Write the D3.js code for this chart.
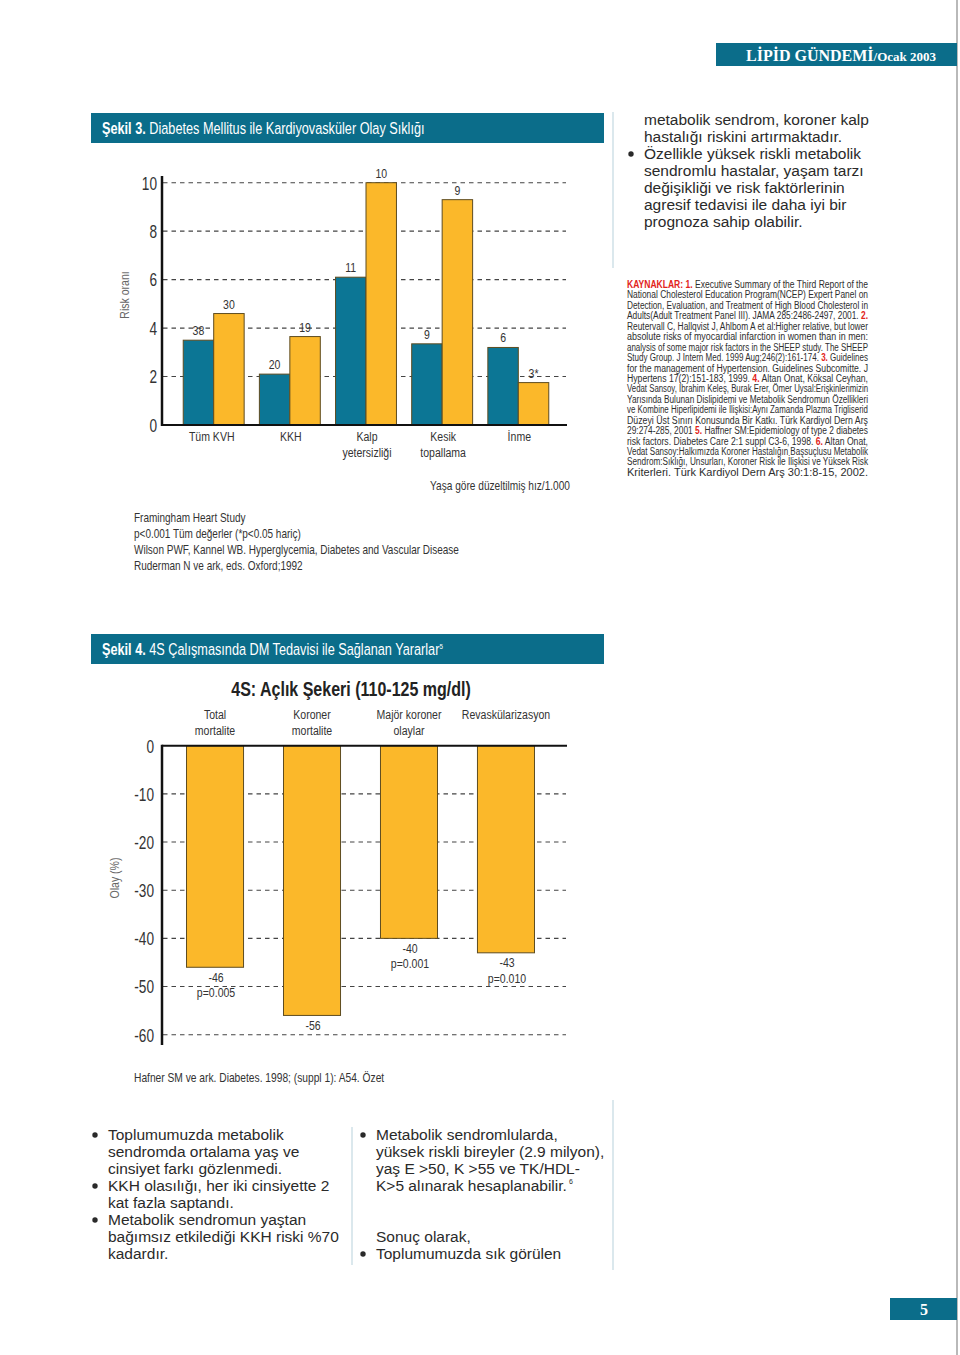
<!DOCTYPE html>
<html>
<head>
<meta charset="utf-8">
<script src="https://cdn.jsdelivr.net/npm/d3@7"></script>
<style>
  body {margin: 0; background: #fff;}
  svg {display: block;}
</style>
</head>
<body>
<div id="page"></div>
<script>
`use strict`;

// Şekil 3 - risk oranı (bar height) and yaşa göre düzeltilmiş hız/1.000 (label)
const riskCats = [`Tüm KVH`, `KKH`, `Kalp|yetersizliği`, `Kesik|topallama`, `İnme`];
const riskBlue = [3.5, 2.1, 6.1, 3.35, 3.2];
const riskYellow = [4.6, 3.65, 10, 9.3, 1.75];
const rateBlue = [`38`, `20`, `11`, `9`, `6`];
const rateYellow = [`30`, `19`, `10`, `9`, `3*`];
const riskTicks = [0, 2, 4, 6, 8, 10];

// Şekil 4 - 4S olay değişimi (%)
const olayCats = [`Total|mortalite`, `Koroner|mortalite`, `Majör koroner|olaylar`, `Revaskülarizasyon`];
const olayValues = [-46, -56, -40, -43];
const olayP = [`p=0.005`, ``, `p=0.001`, `p=0.010`];
const olayTicks = [0, -10, -20, -30, -40, -50, -60];

const rightLines = [
  [``, `metabolik sendrom, koroner kalp`],
  [``, `hastalığı riskini artırmaktadır.`],
  [`•`, `Özellikle yüksek riskli metabolik`],
  [``, `sendromlu hastalar, yaşam tarzı`],
  [``, `değişikliği ve risk faktörlerinin`],
  [``, `agresif tedavisi ile daha iyi bir`],
  [``, `prognoza sahip olabilir.`]
];

const refLines = [
  `<r>KAYNAKLAR: 1.</r> Executive Summary of the Third Report of the`,
  `National Cholesterol Education Program(NCEP) Expert Panel on`,
  `Detection, Evaluation, and Treatment of High Blood Cholesterol in`,
  `Adults(Adult Treatment Panel III). JAMA 285:2486-2497, 2001. <r>2.</r>`,
  `Reutervall C, Hallqvist J, Ahlbom A et al:Higher relative, but lower`,
  `absolute risks of myocardial infarction in women than in men:`,
  `analysis of some major risk factors in the SHEEP study. The SHEEP`,
  `Study Group. J Intern Med. 1999 Aug;246(2):161-174. <r>3.</r> Guidelines`,
  `for the management of Hypertension. Guidelines Subcomitte. J`,
  `Hypertens 17(2):151-183, 1999. <r>4.</r> Altan Onat, Köksal Ceyhan,`,
  `Vedat Sansoy, İbrahim Keleş, Burak Erer, Ömer Uysal:Erişkinlerimizin`,
  `Yarısında Bulunan Dislipidemi ve Metabolik Sendromun Özellikleri`,
  `ve Kombine Hiperlipidemi ile İlişkisi:Aynı Zamanda Plazma Trigliserid`,
  `Düzeyi Üst Sınırı Konusunda Bir Katkı. Türk Kardiyol Dern Arş`,
  `29:274-285, 2001 <r>5.</r> Haffner SM:Epidemiology of type 2 diabetes`,
  `risk factors. Diabetes Care 2:1 suppl C3-6, 1998. <r>6.</r> Altan Onat,`,
  `Vedat Sansoy:Halkımızda Koroner Hastalığın Başsuçlusu Metabolik`,
  `Sendrom:Sıklığı, Unsurları, Koroner Risk ile İlişkisi ve Yüksek Risk`,
  `Kriterleri. Türk Kardiyol Dern Arş 30:1:8-15, 2002.`
];

const noteLines = [
  `Framingham Heart Study`,
  `p<0.001 Tüm değerler (*p<0.05 hariç)`,
  `Wilson PWF, Kannel WB. Hyperglycemia, Diabetes and Vascular Disease`,
  `Ruderman N ve ark, eds. Oxford;1992`
];

const leftBullets = [
  [`•`, `Toplumumuzda metabolik`],
  [``, `sendromda ortalama yaş ve`],
  [``, `cinsiyet farkı gözlenmedi.`],
  [`•`, `KKH olasılığı, her iki cinsiyette 2`],
  [``, `kat fazla saptandı.`],
  [`•`, `Metabolik sendromun yaştan`],
  [``, `bağımsız etkilediği KKH riski %70`],
  [``, `kadardır.`]
];

const rightBullets = [
  [`•`, `Metabolik sendromlularda,`, 0],
  [``, `yüksek riskli bireyler (2.9 milyon),`, 1],
  [``, `yaş E >50, K >55 ve TK/HDL-`, 2],
  [``, `K>5 alınarak hesaplanabilir.`, 3],
  [``, `Sonuç olarak,`, 6],
  [`•`, `Toplumumuzda sık görülen`, 7]
];

(function () {

  const W = 960, H = 1355;

  const teal = `#0b6d8a`, blue = `#0c7695`, yellow = `#fbb82a`, edge = `#5e4c20`;
  const ink = `#333`, soft = `#666`;
  const cond = `"Liberation Sans", Arial, sans-serif`;
  const sans = `"Liberation Sans", Arial, sans-serif`;
  const serif = `"Liberation Serif", "DejaVu Serif", serif`;

  let svg = d3.select(`#page`).append(`svg`)
    .attr(`width`, W)
    .attr(`height`, H)
    .style(`background`, `#fff`);

  // move x/y into a transform and squeeze the text horizontally (stands in for a condensed face)
  let squeeze = (sel, k = .78) => sel.each(function () {
    let t = d3.select(this);
    let x = +t.attr(`x`) || 0, y = +t.attr(`y`) || 0;
    let pre = t.attr(`transform`) || ``;
    t.attr(`transform`, `${pre} translate(${x},${y}) scale(${k},1)`).attr(`x`, 0).attr(`y`, 0);
    t.selectAll(`tspan[x]`).attr(`x`, 0);
  });

  // page frame
  svg.append(`line`).attr(`x1`, 957).attr(`x2`, 957).attr(`y1`, 0).attr(`y2`, H)
    .attr(`stroke`, `#8a8a8a`).attr(`stroke-width`, 1.2);

  [[112, 268], [1100, 1270]].forEach(s => {
    svg.append(`line`).attr(`x1`, 613).attr(`x2`, 613).attr(`y1`, s[0]).attr(`y2`, s[1])
      .attr(`stroke`, `#cfe0e7`).attr(`stroke-width`, 1.5);
  });

  svg.append(`line`).attr(`x1`, 352).attr(`x2`, 352).attr(`y1`, 1127).attr(`y2`, 1265)
    .attr(`stroke`, `#cfe0e7`).attr(`stroke-width`, 1.5);

  // top right banner
  svg.append(`rect`).attr(`x`, 716).attr(`y`, 43).attr(`width`, 241).attr(`height`, 23).attr(`fill`, teal);

  let banner = svg.append(`text`)
    .attr(`x`, 746).attr(`y`, 61)
    .attr(`fill`, `#fff`)
    .style(`font-family`, serif)
    .style(`font-weight`, `bold`);
  banner.append(`tspan`).style(`font-size`, `16px`).text(`LİPİD GÜNDEMİ`);
  banner.append(`tspan`).style(`font-size`, `13px`).text(`/Ocak 2003`);

  // page number
  svg.append(`rect`).attr(`x`, 890).attr(`y`, 1298).attr(`width`, 67).attr(`height`, 22).attr(`fill`, teal);
  svg.append(`text`).attr(`x`, 924).attr(`y`, 1315).attr(`text-anchor`, `middle`)
    .attr(`fill`, `#fff`).style(`font-family`, serif).style(`font-weight`, `bold`).style(`font-size`, `16px`)
    .text(`5`);

  let figHeader = (y, bold, rest, sup) => {

    svg.append(`rect`).attr(`x`, 91).attr(`y`, y).attr(`width`, 513).attr(`height`, 30).attr(`fill`, teal);

    let t = svg.append(`text`)
      .attr(`x`, 102).attr(`y`, y + 21)
      .attr(`fill`, `#fff`)
      .style(`font-family`, cond)
      .style(`font-size`, `16.5px`);

    t.append(`tspan`).style(`font-weight`, `bold`).text(bold);
    t.append(`tspan`).text(rest);

    if (sup) t.append(`tspan`).attr(`dy`, -6).style(`font-size`, `8px`).text(sup);

    squeeze(t, .77);
  };

  figHeader(113, `Şekil 3.`, ` Diabetes Mellitus ile Kardiyovasküler Olay Sıklığı`);
  figHeader(634, `Şekil 4.`, ` 4S Çalışmasında DM Tedavisi ile Sağlanan Yararlar`, `5`);

  let multiline = (sel, d, lh) => {
    d.split(`|`).forEach((s, i) => {
      sel.append(`tspan`).attr(`x`, sel.attr(`x`)).attr(`dy`, i ? lh : 0).text(s);
    });
  };

  /**
  Şekil 3
  **/

  let y3 = d3.scaleLinear().domain([0, 10]).range([425, 182.7]);

  let x3 = d3.scaleBand().domain(riskCats).range([168, 564]).paddingInner(.2).paddingOuter(.2);

  let pair = d3.scaleBand().domain([`b`, `y`]).range([0, x3.bandwidth()]);

  let c3 = svg.append(`g`).attr(`class`, `chart3`);

  c3.selectAll(`line.grid`).data(riskTicks.filter(d => d > 0))
    .enter()
    .append(`line`)
    .attr(`class`, `grid`)
    .attr(`x1`, 163).attr(`x2`, 566)
    .attr(`y1`, d => y3(d)).attr(`y2`, d => y3(d))
    .attr(`stroke`, `#444`)
    .attr(`stroke-width`, 1.1)
    .attr(`stroke-dasharray`, `4.5,4`);

  let axis3 = c3.append(`g`)
    .attr(`transform`, `translate(162,0)`)
    .call(d3.axisLeft(y3).tickValues(riskTicks).tickSize(0).tickPadding(5));

  axis3.select(`.domain`).remove();
  axis3.selectAll(`text`)
    .attr(`dy`, `0.36em`)
    .style(`font-family`, cond)
    .style(`font-size`, `17.5px`)
    .attr(`fill`, ink)
    .call(squeeze);

  let rows = riskCats.map((c, i) => [
    {cat: c, k: `b`, v: riskBlue[i], lbl: rateBlue[i]},
    {cat: c, k: `y`, v: riskYellow[i], lbl: rateYellow[i]}
  ]).flat();

  c3.selectAll(`rect.bar`).data(rows)
    .enter()
    .append(`rect`)
    .attr(`class`, `bar`)
    .attr(`x`, d => x3(d.cat) + pair(d.k))
    .attr(`y`, d => y3(d.v))
    .attr(`width`, pair.bandwidth())
    .attr(`height`, d => y3(0) - y3(d.v))
    .attr(`fill`, d => d.k === `b` ? blue : yellow)
    .attr(`stroke`, edge)
    .attr(`stroke-width`, 1);

  c3.selectAll(`text.val`).data(rows)
    .enter()
    .append(`text`)
    .attr(`class`, `val`)
    .attr(`x`, d => x3(d.cat) + pair(d.k) + pair.bandwidth() / 2)
    .attr(`y`, d => y3(d.v) - 5)
    .attr(`text-anchor`, `middle`)
    .style(`font-family`, cond)
    .style(`font-size`, `13.5px`)
    .attr(`fill`, ink)
    .text(d => d.lbl)
    .call(squeeze);

  c3.append(`line`).attr(`x1`, 162).attr(`x2`, 567).attr(`y1`, y3(0)).attr(`y2`, y3(0))
    .attr(`stroke`, `#111`).attr(`stroke-width`, 2);
  c3.append(`line`).attr(`x1`, 162).attr(`x2`, 162).attr(`y1`, 176).attr(`y2`, y3(0) + 1)
    .attr(`stroke`, `#111`).attr(`stroke-width`, 2.5);

  c3.selectAll(`text.cat`).data(riskCats)
    .enter()
    .append(`text`)
    .attr(`class`, `cat`)
    .attr(`x`, (d, i) => x3(d) + x3.bandwidth() / 2 + (i ? 1 : -2))
    .attr(`y`, 441)
    .attr(`text-anchor`, `middle`)
    .style(`font-family`, cond)
    .style(`font-size`, `13.5px`)
    .attr(`fill`, ink)
    .each(function (d) { multiline(d3.select(this), d, 16); })
    .call(squeeze);

  c3.append(`text`)
    .attr(`transform`, `translate(129,295) rotate(-90)`)
    .attr(`text-anchor`, `middle`)
    .style(`font-family`, cond)
    .style(`font-size`, `13.5px`)
    .attr(`fill`, soft)
    .text(`Risk oranı`)
    .call(squeeze);

  c3.append(`text`)
    .attr(`x`, 570).attr(`y`, 490)
    .attr(`text-anchor`, `end`)
    .style(`font-family`, cond)
    .style(`font-size`, `13px`)
    .attr(`fill`, ink)
    .text(`Yaşa göre düzeltilmiş hız/1.000`)
    .call(squeeze);

  svg.selectAll(`text.note`).data(noteLines)
    .enter()
    .append(`text`)
    .attr(`class`, `note`)
    .attr(`x`, 134)
    .attr(`y`, (d, i) => 522 + i * 16)
    .style(`font-family`, cond)
    .style(`font-size`, `12.5px`)
    .attr(`fill`, ink)
    .text(d => d)
    .call(squeeze, .8);

  /**
  Şekil 4
  **/

  let y4 = d3.scaleLinear().domain([0, -60]).range([745.7, 1034.7]);

  let x4 = d3.scaleBand().domain(olayCats).range([158, 563]).paddingInner(.412).paddingOuter(.294);

  let c4 = svg.append(`g`).attr(`class`, `chart4`);

  c4.append(`text`)
    .attr(`x`, 351).attr(`y`, 696)
    .attr(`text-anchor`, `middle`)
    .style(`font-family`, cond)
    .style(`font-weight`, `bold`)
    .style(`font-size`, `20px`)
    .attr(`fill`, `#222`)
    .text(`4S: Açlık Şekeri (110-125 mg/dl)`)
    .call(squeeze, .8);

  c4.selectAll(`line.grid`).data(olayTicks.filter(d => d < 0))
    .enter()
    .append(`line`)
    .attr(`class`, `grid`)
    .attr(`x1`, 163).attr(`x2`, 566)
    .attr(`y1`, d => y4(d)).attr(`y2`, d => y4(d))
    .attr(`stroke`, `#444`)
    .attr(`stroke-width`, 1.1)
    .attr(`stroke-dasharray`, `4.5,4`);

  let axis4 = c4.append(`g`)
    .attr(`transform`, `translate(162,0)`)
    .call(d3.axisLeft(y4).tickValues(olayTicks).tickSize(0).tickPadding(8).tickFormat(d3.format(`d`)));

  axis4.select(`.domain`).remove();
  axis4.selectAll(`text`)
    .attr(`dy`, `0.36em`)
    .style(`font-family`, cond)
    .style(`font-size`, `17.5px`)
    .attr(`fill`, ink)
    .text(d => String(d).replace(`−`, `-`))
    .call(squeeze);

  c4.selectAll(`rect.bar`).data(olayValues)
    .enter()
    .append(`rect`)
    .attr(`class`, `bar`)
    .attr(`x`, (d, i) => x4(olayCats[i]))
    .attr(`y`, y4(0))
    .attr(`width`, x4.bandwidth())
    .attr(`height`, d => y4(d) - y4(0))
    .attr(`fill`, yellow)
    .attr(`stroke`, edge)
    .attr(`stroke-width`, 1);

  c4.selectAll(`text.val`).data(olayValues)
    .enter()
    .append(`text`)
    .attr(`class`, `val`)
    .attr(`x`, (d, i) => x4(olayCats[i]) + x4.bandwidth() / 2 + 1)
    .attr(`y`, d => y4(d) + 14.5)
    .attr(`text-anchor`, `middle`)
    .style(`font-family`, cond)
    .style(`font-size`, `13.5px`)
    .attr(`fill`, ink)
    .each(function (d, i) { multiline(d3.select(this), String(d) + (olayP[i] ? `|` + olayP[i] : ``), 15.5); })
    .call(squeeze);

  c4.append(`line`).attr(`x1`, 162).attr(`x2`, 567).attr(`y1`, y4(0)).attr(`y2`, y4(0))
    .attr(`stroke`, `#111`).attr(`stroke-width`, 2);
  c4.append(`line`).attr(`x1`, 162).attr(`x2`, 162).attr(`y1`, y4(0) - 1).attr(`y2`, 1045)
    .attr(`stroke`, `#111`).attr(`stroke-width`, 2.5);

  c4.selectAll(`text.cat`).data(olayCats)
    .enter()
    .append(`text`)
    .attr(`class`, `cat`)
    .attr(`x`, d => x4(d) + x4.bandwidth() / 2)
    .attr(`y`, 719)
    .attr(`text-anchor`, `middle`)
    .style(`font-family`, cond)
    .style(`font-size`, `13.5px`)
    .attr(`fill`, ink)
    .each(function (d) { multiline(d3.select(this), d, 16); })
    .call(squeeze);

  c4.append(`text`)
    .attr(`transform`, `translate(119,878) rotate(-90)`)
    .attr(`text-anchor`, `middle`)
    .style(`font-family`, cond)
    .style(`font-size`, `13.5px`)
    .attr(`fill`, soft)
    .text(`Olay (%)`)
    .call(squeeze);

  svg.append(`text`)
    .attr(`x`, 134).attr(`y`, 1082)
    .style(`font-family`, cond)
    .style(`font-size`, `12.8px`)
    .attr(`fill`, ink)
    .text(`Hafner SM ve ark. Diabetes. 1998; (suppl 1): A54. Özet`)
    .call(squeeze, .8);

  /**
  @dev - body text
  **/

  let bodyText = (lines, bx, tx, y0, size, step) => {

    let g = svg.append(`g`)
      .style(`font-family`, sans)
      .style(`font-size`, size + `px`)
      .attr(`fill`, `#2a2a2a`);

    lines.forEach((l, i) => {
      let row = l.length > 2 ? l[2] : i;
      if (l[0]) g.append(`circle`).attr(`cx`, bx).attr(`cy`, y0 + row * step - 5).attr(`r`, 2.7);
      g.append(`text`).attr(`x`, tx).attr(`y`, y0 + row * step).text(l[1]);
    });

    return g;
  };

  bodyText(rightLines, 631, 644, 125, 15.5, 17);
  bodyText(leftBullets, 95, 108, 1140, 15.5, 17);

  let rb = bodyText(rightBullets, 363, 376, 1140, 15.5, 17);

  let endX = 376 + rb.selectAll(`text`).nodes()[3].getComputedTextLength();

  rb.append(`text`).attr(`x`, endX + 2).attr(`y`, 1184).style(`font-size`, `7px`).text(`6`);

  // references, justified
  let refs = svg.append(`g`)
    .style(`font-family`, cond)
    .style(`font-size`, `10px`)
    .attr(`fill`, `#2e2e2e`);

  refLines.forEach((l, i) => {

    let t = refs.append(`text`)
      .attr(`x`, 627)
      .attr(`y`, 288 + i * 10.44)
      .attr(`textLength`, 241)
      .attr(`lengthAdjust`, `spacingAndGlyphs`);

    l.split(/(<r>.*?<\/r>)/).filter(s => s.length).forEach(s => {
      if (s.startsWith(`<r>`)) {
        t.append(`tspan`)
          .attr(`fill`, `#e2231a`)
          .style(`font-weight`, `bold`)
          .text(s.replace(/<\/?r>/g, ``));
      } else {
        t.append(`tspan`).text(s);
      }
    });
  });

})();
</script>
</body>
</html>
